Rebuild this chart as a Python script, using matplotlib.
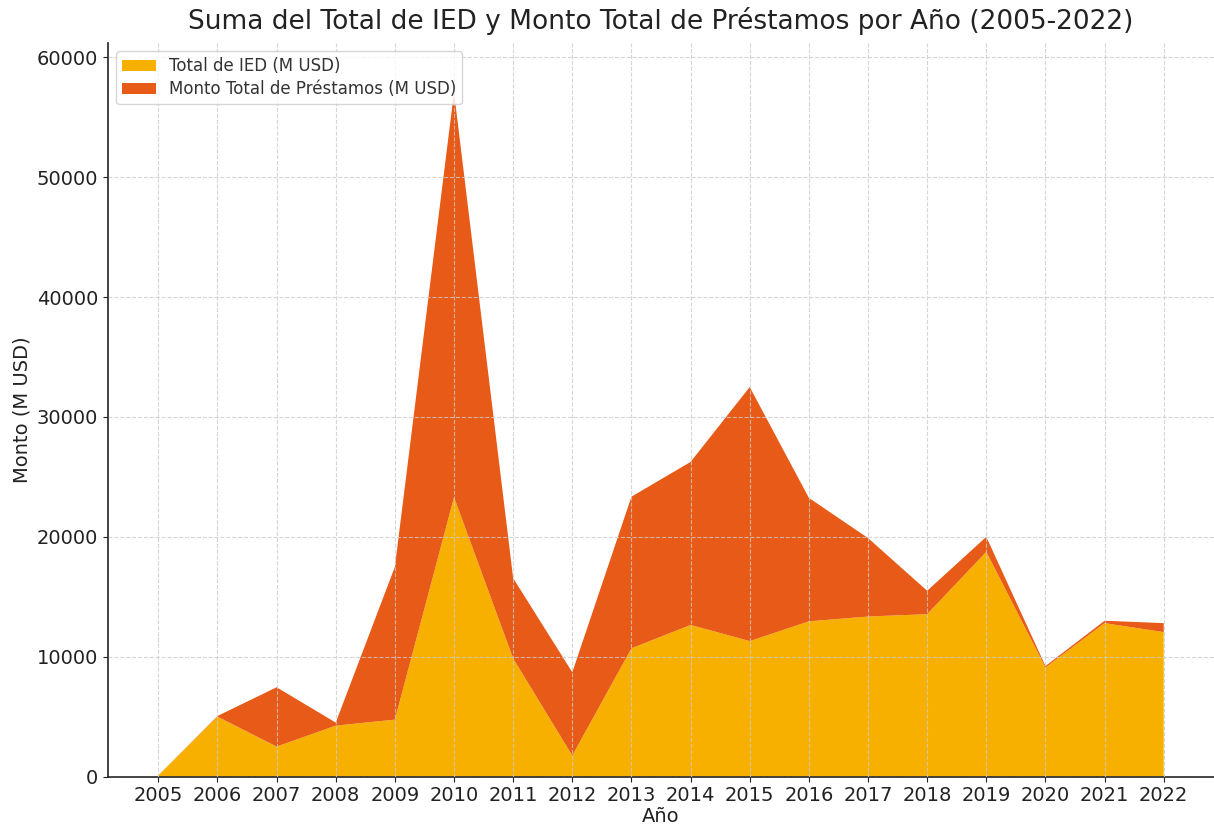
import matplotlib
matplotlib.use("Agg")
import matplotlib.pyplot as plt

# Años y montos (millones de USD)
anios = list(range(2005, 2023))
ied = [100, 5000, 2500, 4250, 4750, 23300, 9850, 1750, 10700, 12650,
       11300, 12950, 13350, 13550, 18750, 9100, 12800, 12050]
prestamos = [0, 50, 4950, 250, 12750, 33800, 6700, 6950, 12650, 13600,
             21200, 10300, 6550, 1950, 1250, 120, 200, 750]

colores = ["#F8B000", "#E85A17"]
etiquetas = ["Total de IED (M USD)", "Monto Total de Préstamos (M USD)"]

fig = plt.figure(figsize=(12.14, 8.27), dpi=100)
ax = fig.add_axes([0.089, 0.061, 0.911, 0.887])

ax.stackplot(anios, ied, prestamos, labels=etiquetas, colors=colores)

ax.set_xlim(2004.15, 2022.85)
ax.set_ylim(0, 61200)
ax.set_xticks(anios)
ax.set_yticks(range(0, 60001, 10000))
ax.tick_params(labelsize=14, colors="#222222")

ax.grid(True, linestyle="--", color="#cccccc", linewidth=0.8, alpha=0.8)
ax.set_axisbelow(False)
for s in ["top", "right"]:
    ax.spines[s].set_visible(False)
for s in ["left", "bottom"]:
    ax.spines[s].set_color("#222222")
    ax.spines[s].set_linewidth(1.2)

ax.set_title("Suma del Total de IED y Monto Total de Préstamos por Año (2005-2022)",
             fontsize=19, color="#222222", pad=10)
ax.set_xlabel("Año", fontsize=14, color="#222222", labelpad=1)
ax.set_ylabel("Monto (M USD)", fontsize=14, color="#222222")

leg = ax.legend(loc="upper left", fontsize=12, framealpha=0.8,
                labelspacing=0.3, borderpad=0.35)
for t in leg.get_texts():
    t.set_color("#333333")

fig.savefig("out.png", dpi=100)
